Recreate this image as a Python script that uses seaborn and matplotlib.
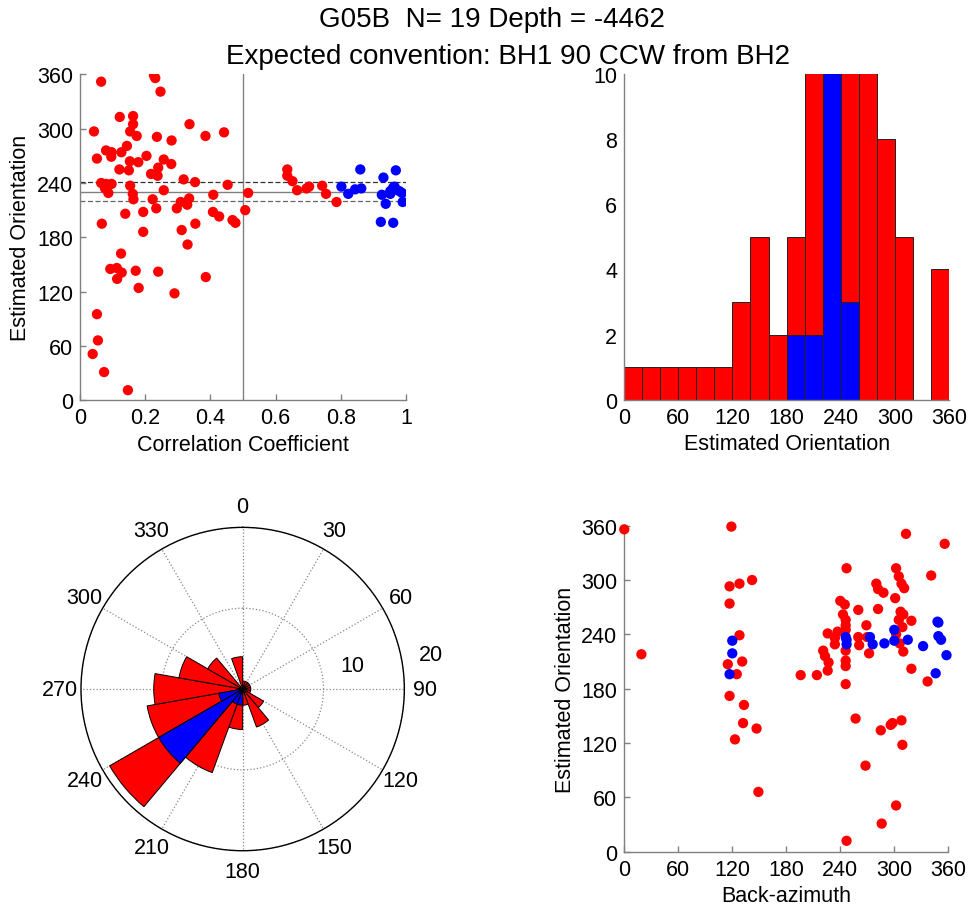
import numpy as np
import pandas as pd
import matplotlib
matplotlib.use("Agg")
import matplotlib.pyplot as plt
import seaborn as sns

# ---------------- data ----------------
corr_red = [0.065,0.227,0.231,0.247,0.122,0.163,0.163,0.154,0.174,0.043,0.236,0.281,0.336,0.385,0.442,
            0.080,0.097,0.127,0.144,0.052,0.096,0.204,0.257,0.280,0.153,0.179,0.121,0.150,0.240,0.218,
            0.238,0.318,0.353,0.065,0.080,0.097,0.077,0.087,0.154,0.162,0.164,0.257,0.223,0.234,0.309,
            0.329,0.335,0.297,0.409,0.453,0.408,0.427,0.468,0.477,0.507,0.516,0.139,0.194,0.067,0.354,
            0.312,0.194,0.330,0.126,0.093,0.113,0.128,0.114,0.171,0.240,0.386,0.180,0.290,0.052,0.055,
            0.039,0.074,0.147,0.636,0.636,0.652,0.666,0.695,0.703,0.743,0.755,0.787]
orient_red = [352,359,356,341,313,314,305,297,292,297,291,287,305,292,296,
              276,274,274,281,267,269,270,266,261,264,263,255,254,257,250,
              248,244,241,240,239,239,234,229,237,228,222,232,222,212,219,
              216,223,212,227,238,208,203,199,196,210,229,206,208,195,195,
              188,186,172,162,145,146,141,134,143,142,136,124,118,95,66,
              51,31,11,255,248,242,232,234,236,237,228,219]
corr_blue = [0.802,0.823,0.844,0.863,0.860,0.931,0.969,0.926,0.952,0.938,0.965,0.969,0.988,0.990,
             0.923,0.961,0.952,0.961,0.980]
orient_blue = [236,228,233,234,255,246,254,227,228,217,236,233,229,219,197,196,231,235,231]

corr_threshold = 0.5
orient_mean = 230
orient_bounds = [241, 220]

bin_edges = list(range(0, 361, 20))
count_all = [1,1,1,1,1,1,3,5,2,5,11,19,12,11,8,5,0,4]
count_blue = [0,0,0,0,0,0,0,0,0,2,2,12,3,0,0,0,0,0]

baz_red = [0,119,117,128,142,117,128,19,115,131,125,117,133,132,147,123,149,
           313,356,247,302,305,308,311,280,282,288,341,301,240,245,260,282,307,310,243,246,305,319,
           246,269,309,226,237,246,234,260,270,302,234,261,306,310,272,221,223,227,226,246,246,246,
           196,214,319,337,246,257,285,296,298,308,309,268,302,286,247]
orient2_red = [356,359,293,296,300,274,239,218,207,210,196,172,162,142,136,124,66,
               351,340,313,313,304,296,291,296,290,286,305,280,277,273,267,268,265,262,262,256,256,255,
               250,250,248,241,243,245,236,237,237,240,229,228,230,221,219,222,216,209,200,222,211,205,
               195,195,202,188,185,147,134,140,142,145,118,95,51,31,12]
baz_blue = [120,120,117,247,247,273,276,289,300,300,315,332,348,349,349,352,358,346,246]
orient2_blue = [233,219,196,234,229,237,229,230,245,233,234,227,254,253,238,234,217,197,237]

title_lines = ["G05B  N= 19 Depth = -4462", "Expected convention: BH1 90 CCW from BH2"]

# ---------------- style ----------------
sns.set_theme(style="white")
plt.rcParams['font.family'] = ['Liberation Sans', 'DejaVu Sans']
plt.rcParams['axes.edgecolor'] = '#808080'
plt.rcParams['axes.linewidth'] = 1.0
plt.rcParams['text.color'] = 'black'
plt.rcParams['axes.labelcolor'] = 'black'
plt.rcParams['xtick.color'] = 'black'
plt.rcParams['ytick.color'] = 'black'

RED = '#ff0000'
BLUE = '#0000ff'
FS = 15.5

fig = plt.figure(figsize=(9.73, 9.2), dpi=100)

def style_cart(ax):
    for s in ['top', 'right']:
        ax.spines[s].set_visible(False)
    for s in ['left', 'bottom']:
        ax.spines[s].set_color('#808080')
    ax.tick_params(direction='in', length=4, width=1, colors='#808080',
                   labelcolor='black', labelsize=FS, left=True, bottom=True, pad=5)

# top-left scatter
ax1 = fig.add_axes([0.0822, 0.564, 0.335, 0.354])
df_r = pd.DataFrame({'c': corr_red, 'o': orient_red})
df_b = pd.DataFrame({'c': corr_blue, 'o': orient_blue})
ax1.axvline(corr_threshold, color='#808080', lw=1, zorder=1)
ax1.axhline(orient_mean, color='#808080', lw=1, zorder=1)
ax1.axhline(orient_bounds[0], color='#333333', lw=0.9, ls=(0, (4, 2)), zorder=1)
ax1.axhline(orient_bounds[1], color='#666666', lw=0.9, ls=(0, (4, 2)), zorder=1)
sns.scatterplot(data=df_r, x='c', y='o', color=RED, s=55, edgecolor='none', ax=ax1, zorder=3)
sns.scatterplot(data=df_b, x='c', y='o', color=BLUE, s=55, edgecolor='none', ax=ax1, zorder=3)
ax1.set_xlim(0, 1)
ax1.set_ylim(0, 360)
ax1.set_xticks([0, 0.2, 0.4, 0.6, 0.8, 1])
ax1.set_xticklabels(['0', '0.2', '0.4', '0.6', '0.8', '1'])
ax1.set_yticks(range(0, 361, 60))
ax1.set_xlabel('Correlation Coefficient', fontsize=FS)
ax1.set_ylabel('Estimated Orientation', fontsize=FS)
style_cart(ax1)

# top-right histogram
ax2 = fig.add_axes([0.6413, 0.5645, 0.3343, 0.354])
centers = [(bin_edges[i] + bin_edges[i + 1]) / 2 for i in range(len(count_all))]
sns.histplot(x=centers, weights=count_all, bins=bin_edges, color=RED, alpha=1,
             edgecolor='#222222', linewidth=0.7, ax=ax2)
sns.histplot(x=centers, weights=count_blue, bins=bin_edges, color=BLUE, alpha=1,
             edgecolor='#222222', linewidth=0.7, ax=ax2)
for p in ax2.patches:
    if p.get_height() == 0:
        p.set_visible(False)
ax2.set_xlim(0, 360)
ax2.set_ylim(0, 10)
ax2.set_xticks(range(0, 361, 60))
ax2.set_yticks(range(0, 11, 2))
ax2.set_xlabel('Estimated Orientation', fontsize=FS)
ax2.set_ylabel('')
style_cart(ax2)
ax2.tick_params(length=0)

# bottom-left rose
ax3 = fig.add_axes([0.0832, 0.0742, 0.3324, 0.3515], projection='polar')
ax3.set_theta_zero_location('N')
ax3.set_theta_direction(-1)
w = np.deg2rad(20)
th = np.deg2rad(centers)
ax3.bar(th, count_all, width=w, bottom=0, color=RED, edgecolor='black', linewidth=0.7, zorder=3)
ax3.bar(th, count_blue, width=w, bottom=0, color=BLUE, edgecolor='black', linewidth=0.7, zorder=4)
ax3.set_ylim(0, 20)
ax3.set_yticks([10, 20])
ax3.set_yticklabels([])
ax3.set_xticks(np.deg2rad(np.arange(0, 360, 30)))
ax3.set_xticklabels([str(a) for a in range(0, 360, 30)], fontsize=FS)
ax3.tick_params(axis='x', pad=2)
ax3.grid(True, color='#888888', ls=':', lw=0.9)
ax3.spines['polar'].set_color('black')
ax3.spines['polar'].set_linewidth(1.0)
ax3.text(np.deg2rad(77.7), 13.9, '10', fontsize=FS, ha='center', va='center')
ax3.text(np.deg2rad(79.5), 23.7, '20', fontsize=FS, ha='center', va='center', clip_on=False)

# bottom-right scatter
ax4 = fig.add_axes([0.6416, 0.0732, 0.333, 0.3543])
df_r2 = pd.DataFrame({'b': baz_red, 'o': orient2_red})
df_b2 = pd.DataFrame({'b': baz_blue, 'o': orient2_blue})
sns.scatterplot(data=df_r2, x='b', y='o', color=RED, s=55, edgecolor='none', ax=ax4, zorder=3, clip_on=False)
sns.scatterplot(data=df_b2, x='b', y='o', color=BLUE, s=55, edgecolor='none', ax=ax4, zorder=3, clip_on=False)
ax4.set_xlim(0, 360)
ax4.set_ylim(0, 360)
ax4.set_xticks(range(0, 361, 60))
ax4.set_yticks(range(0, 361, 60))
ax4.set_xlabel('Back-azimuth', fontsize=FS)
ax4.set_ylabel('Estimated Orientation', fontsize=FS)
style_cart(ax4)

fig.text(0.506, 0.978, title_lines[0], fontsize=20, ha='center', va='center')
fig.text(0.522, 0.938, title_lines[1], fontsize=20, ha='center', va='center')

fig.savefig('out.png', dpi=100)
